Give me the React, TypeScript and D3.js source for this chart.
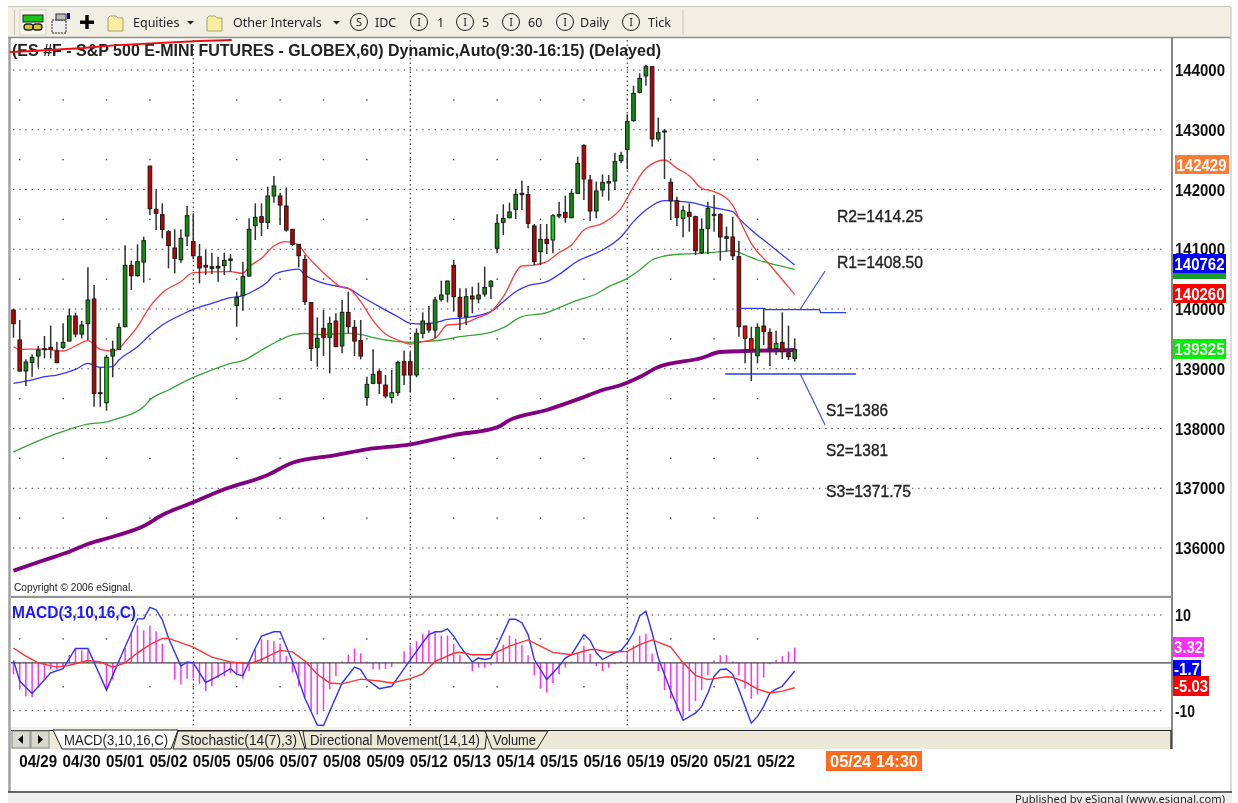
import React from "react";
import * as d3 from "d3";

const highs = [140000,139816,139157,139241,139381,139548,139721,139453,139760,140005,139938,139799,140697,140402,139024,139230,139470,139760,141065,140809,141082,141210,142393,141992,141768,141322,141333,141333,141724,141601,141088,140987,140943,140876,140943,140920,140290,140792,141517,141768,141768,142047,142226,141947,142036,141333,141082,140904,140106,139860,139983,139871,139927,140150,140290,139816,139816,138867,139325,138990,138895,138979,139135,139302,139286,139676,139944,140050,140206,140474,140474,140820,140346,140346,140374,140440,140708,140485,141584,141752,141780,142003,142148,142058,141422,141422,141422,141584,141796,141897,141992,142549,142756,142243,142131,142254,142243,142616,142633,143258,143738,143944,144084,144056,143202,143012,142187,141880,141729,141768,141562,141517,141796,141908,141601,141378,141545,141143,139721,139704,139760,140000,139676,139637,139944,139721,139509];
const lows = [139520,138951,138711,138867,139018,139174,139174,139090,139325,139453,139526,139509,139481,138365,138365,138298,138856,139314,139693,140318,140541,140440,141573,141322,141183,140680,140597,140775,141054,140831,140429,140569,140586,140457,140569,140625,139704,139972,140541,141155,141222,141339,141780,141406,141294,141054,140697,140067,139130,139035,139213,138923,139369,139258,139593,139213,139157,138382,138739,138577,138505,138421,138544,138728,138605,138856,139509,139604,139509,140123,140111,139955,139648,139732,139927,140095,140206,140167,140932,141238,141517,141506,141657,141350,140736,140736,140920,140932,141517,141445,141517,141925,141824,141473,141517,141880,141813,141992,142438,142343,143135,143609,143738,142717,142800,142176,141489,141389,141199,141294,140904,140920,140920,141294,140809,140959,140820,139537,139090,138795,139090,139397,139046,139230,139163,139146,139118];
const opens = [139983,139481,138962,139107,139213,139336,139358,139297,139358,139464,139883,139581,139754,140167,138599,138432,139213,139325,139704,140731,140558,140786,142393,141668,141579,141294,141021,140826,141222,141127,140876,140731,140708,140714,140725,140837,140061,140223,140552,141395,141545,141450,141891,141891,141724,141333,141082,140831,140106,139358,139676,139526,139799,139381,139944,139693,139470,138521,138756,138951,138728,138521,138605,139118,139118,138895,139593,139760,139648,140162,140251,140731,140195,139871,140217,140167,140251,140379,141015,141450,141528,141668,141936,141913,141389,140959,141166,141155,141584,141618,141528,141936,142734,142159,141640,141992,142131,142142,142482,142672,143152,143626,143900,144056,142845,142979,142120,141813,141517,141618,141545,140943,141350,141584,141584,141210,141205,140876,139715,139503,139219,139715,139609,139341,139442,139269,139174];
const closes = [139754,138962,139113,139191,139314,139319,139325,139102,139442,139883,139581,139732,140150,138588,138583,139191,139325,139693,140731,140558,140792,141143,141679,141601,141333,141060,140848,141183,141562,140892,140686,140703,140680,140686,140814,140814,140190,140541,141333,141534,141450,141891,142058,141740,141322,141082,140892,140123,139341,139509,139526,139760,139369,139944,139704,139464,139213,138739,138906,138756,138544,138599,139102,138895,138895,139593,139799,139648,140150,140234,140468,140206,139871,140206,140167,140234,140362,140463,141434,141517,141623,141919,141913,141434,140792,141166,141099,141562,141556,141534,141936,142438,142176,141640,141975,142120,142109,142466,142572,143135,143609,143860,144056,142845,142951,142962,141813,141534,141646,141551,140976,141333,141685,141568,141205,141183,140892,139704,139509,139314,139693,139626,139341,139420,139286,139202,139319];
const brightIndex = [15, 61, 87, 108, 123, 118, 119];

const redMaIndex = [0,1,5,8,10,12,14,16,17,18,20,22,24,27,29,35,37,38,40,42,44,46,47,49,51,53,54,56,58,60,62,64,66,68,70,72,75,77,79,82,84,86,88,90,92,95,98,100,102,105,107,109,111,113,116,117,119,122,126];
const redMa = [139369,139325,139330,139297,139381,139470,139325,139297,139336,139453,139704,140039,140273,140457,140608,140625,140597,140708,140848,141054,141127,141071,140932,140708,140513,140362,140346,140123,139805,139581,139481,139414,139453,139509,139732,139749,139860,139955,140206,140720,140736,140792,140945,141071,141322,141434,141685,142047,142354,142494,142354,142231,142019,141964,141740,141517,141099,140736,140245];
const blueMaIndex = [0,3,5,7,10,12,14,16,17,20,22,24,27,29,32,35,37,39,41,42,44,46,47,49,52,54,56,59,62,64,66,68,70,73,77,79,81,83,86,88,91,95,98,100,102,105,108,110,112,114,116,117,119,122,126];
const blueMa = [138756,138812,138867,138895,138990,139090,139024,139035,139146,139369,139565,139732,139899,139994,140095,140190,140223,140318,140457,140569,140641,140669,140569,140468,140385,140346,140217,140039,139871,139760,139749,139771,139827,139855,139955,140123,140290,140390,140457,140580,140803,140987,141210,141462,141657,141813,141796,141768,141713,141674,141629,141517,141322,141071,140736];
const greenMaIndex = [0,6,12,15,16,21,22,25,29,32,35,37,40,43,45,47,49,54,56,58,62,64,66,69,72,77,79,82,86,88,91,94,96,99,101,103,105,108,111,114,116,118,120,122,126];
const greenMa = [137607,137875,138075,138109,138142,138365,138477,138644,138856,138979,139090,139135,139314,139481,139565,139593,139570,139593,139576,139520,139453,139442,139453,139481,139537,139609,139687,139871,139938,140022,140150,140251,140374,140513,140653,140820,140887,140920,140932,140959,140976,140904,140820,140764,140664];
const purpleMaIndex = [0,5,9,12,16,21,24,29,34,41,45,52,57,64,71,78,80,86,92,95,98,101,104,111,114,126];
const purpleMa = [135620,135799,135938,136067,136189,136368,136552,136764,136982,137222,137428,137556,137651,137735,137891,138019,138140,138310,138527,138644,138728,138862,139029,139180,139280,139314];

const histValues = [-2.4,-5.6,-7,-7.2,-5.2,-3.5,-1.4,-1.4,-0.9,1.7,3,2.6,2.6,0.5,-0.3,-5.2,-3.5,0.3,3.1,6.3,7.8,6.8,7.8,6.6,4,0.1,-3.5,-4.5,-3.3,-3.3,-4.4,-5.9,-4.9,-3.1,-2.8,-2.1,-2.4,-3.3,-1.7,2.8,4.9,4.8,4.5,4,1.4,-2,-4.9,-7.3,-10,-10.8,-9.8,-5.5,-2.8,0.3,1.7,3,2,0.3,-1.4,-1.4,-1.3,-0.9,0,2.4,3.7,4.5,6.1,6.8,6.5,5.7,5.7,4,1.6,-0.2,-1.7,-1,-1,-0.5,2.1,3.8,5.7,5,3.8,1.6,-2.6,-5.4,-6.2,-4.2,-2.4,-1,0.3,2.1,3.5,1.9,-0.7,-1.7,-1,-0.3,0.3,1.9,3.6,5.7,6.1,1.9,-1.7,-5.7,-7.5,-10.1,-11.4,-10,-8,-5.7,-2.6,0.5,1.6,1.6,0.3,-2.6,-5.4,-7.5,-6.6,-3.1,-0.3,0.6,1.4,2.4,3.2];
const macdIndex = [0,1,3,6,8,10,12,15,17,20,21,22,23,24,25,27,28,29,31,33,35,36,37,39,40,42,43,45,47,49,50,53,55,56,57,59,61,63,66,67,68,69,70,71,72,74,75,76,77,78,80,81,82,83,84,86,88,89,90,92,93,94,95,97,98,99,100,101,102,103,104,106,108,110,111,112,113,114,115,116,117,119,120,121,122,123,124,126];
const macdLine = [0.5,-3.8,-6.4,-2.1,-1.2,3,3,-5.7,0.4,9.2,9.2,11.6,11.1,9,5.2,-0.7,0.2,0,-4.1,-2.8,-1.2,-2.4,-2.7,3.1,5.6,6.5,6.5,0.3,-7.4,-13,-13.1,-4.2,-0.9,-1.4,-3.5,-5.4,-4.9,-1.2,4.2,5.9,6.5,6.5,7.1,5.6,3.5,0.2,1,0.7,1,3.5,9.1,9.1,8.4,5.9,0.7,-3.5,-0.7,1,1.7,5.9,4.7,2.1,0.7,2.1,2.6,4.2,6.3,9.8,10.8,6.3,1,-5.9,-12,-10.5,-9.1,-6.3,-2.8,-1.4,-1.3,-2.4,-5.6,-12.6,-11.2,-9.1,-6.3,-5.5,-4.9,-1.7];
const signalIndex = [0,2,4,7,9,12,14,16,18,20,22,24,25,29,32,35,38,40,43,45,47,49,51,53,56,59,61,64,66,68,71,72,74,77,80,83,85,87,90,93,94,96,99,101,103,106,108,110,112,115,116,118,120,122,124,126];
const signalLine = [3.1,1.4,0,-0.9,-0.5,0.5,0.2,-0.9,0,2.1,3.8,5.1,5.1,3.3,1.2,0.2,-0.2,0.7,2.6,2.3,0.4,-2.4,-4.2,-4.4,-3.4,-3.8,-4.2,-3.3,-2.3,0.3,2,2.2,1.7,1.7,3.5,4.8,3.5,2.2,1.7,2.8,2.8,2.2,2.4,3.8,4.8,3.3,0,-2.6,-3.5,-2.9,-3,-4,-5.5,-6.3,-5.9,-5.2];

const priceTicks = [144000,143000,142000,141000,140000,139000,138000,137000,136000];
const priceHalfTicks = [143500,142500,141500,140500,139500,138500,137500,136500];
const dayLabels = ["04/29","04/30","05/01","05/02","05/05","05/06","05/07","05/08","05/09","05/12","05/13","05/14","05/15","05/16","05/19","05/20","05/21","05/22"];
const weekStartDays = [4, 9, 14];
const macdTicks = [10, -10];
const macdHalfTicks = [5, -5];

const resistIndex = [117.2,121.2,121.3,130,130.2,134.3];
const resistPrice = [140010,140010,139990,139990,139940,139940];
const resistLeaderIndex = [126.9,130.9];
const resistLeaderPrice = [140000,140636];
const supportIndex = [114.8,135.9];
const supportPrice = [138912,138912];
const supportLeaderIndex = [126.9,130.9];
const supportLeaderPrice = [138912,138059];
const strikeIndex = [-0.6,3.1,11.2,16.7,30,35.2];
const strikePrice = [144301,144318,144368,144418,144485,144502];

const levelNotes = [
  { text: "R2=1414.25", x: 837, y: 216, w: 86 },
  { text: "R1=1408.50", x: 837, y: 262, w: 86 },
  { text: "S1=1386", x: 826, y: 410, w: 62 },
  { text: "S2=1381", x: 826, y: 450, w: 62 },
  { text: "S3=1371.75", x: 826, y: 491, w: 85 },
];
const priceBadges = [
  { text: "142429", fill: "#ff7a33", x: 1175, y: 155, w: 54, h: 19 },
  { text: "", fill: "#1f9a2a", x: 1173, y: 266, w: 53, h: 13 },
  { text: "140762", fill: "#0000ff", x: 1173, y: 254, w: 53, h: 19 },
  { text: "140260", fill: "#ff0000", x: 1173, y: 284, w: 53, h: 19 },
  { text: "139325", fill: "#00ee00", x: 1173, y: 339, w: 53, h: 20 },
];
const macdBadges = [
  { text: "3.32", fill: "#ff2fff", x: 1173, y: 637, w: 31, h: 20 },
  { text: "-1.7", fill: "#0000ff", x: 1173, y: 660, w: 28, h: 17 },
  { text: "-5.03", fill: "#ff0000", x: 1173, y: 676, w: 36, h: 20 },
];
const toolbarLabels = [
  { text: "Equities", x: 133 },
  { text: "Other Intervals", x: 233 },
  { text: "IDC", x: 375 },
  { text: "1", x: 437 },
  { text: "5", x: 482 },
  { text: "60", x: 528 },
  { text: "Daily", x: 580 },
  { text: "Tick", x: 648 },
];
const toolbarCircles = [
  { text: "S", x: 359 }, { text: "I", x: 419 }, { text: "I", x: 465 },
  { text: "I", x: 511 }, { text: "I", x: 565 }, { text: "I", x: 631 },
];
const tabs = [
  { text: "MACD(3,10,16,C)", x: 64, w: 104, pts: "53,730 62,749 171,749 178,730", fill: "#ffffff" },
  { text: "Stochastic(14(7),3)", x: 181, w: 116, pts: "173,749 178,731 299,731 305,749", fill: "#ece9d8" },
  { text: "Directional Movement(14,14)", x: 310, w: 170, pts: "303,731 306,749 485,749 487,731", fill: "#ece9d8" },
  { text: "Volume", x: 493, w: 43, pts: "485,731 492,749 537,749 548,731", fill: "#ece9d8" },
];

const x = d3.scaleLinear().domain([0, 126]).range([13.5, 794.7]);
const y = d3.scaleLinear().domain([136000, 144000]).range([548, 70]);
const ym = d3.scaleLinear().domain([-10, 10]).range([710.7, 615]);

const pricePath = (idx: number[], vals: number[], curve: d3.CurveFactory = d3.curveLinear) =>
  d3.line<number>().x((d) => x(d)).y((_, i) => y(vals[i])).curve(curve)(idx) as string;
const macdPath = (idx: number[], vals: number[]) =>
  d3.line<number>().x((d) => x(d)).y((_, i) => ym(vals[i]))(idx) as string;

const dayIndex = dayLabels.map((_, k) => 1 + 7 * k);
const sans = "'Liberation Sans', Arial, sans-serif";
const ui = "'Noto Sans', Tahoma, sans-serif";

export default function App() {
  return (
    <svg width={1238} height={803} style={{ position: "absolute", left: 0, top: 0, display: "block", background: "#fff" }}>
      <defs>
        <filter id="soft" x="0" y="0" width="100%" height="100%">
          <feGaussianBlur stdDeviation="0.35" />
        </filter>
        <clipPath id="paneClip"><rect x={11} y={40} width={1160} height={687} /></clipPath>
      </defs>
      <g filter="url(#soft)">
        {/* window */}
        <rect x={8} y={7} width={1223} height={31} fill="#f1efe4" />
        <line x1={8} x2={1231} y1={6.5} y2={6.5} stroke="#c8c8c0" />
        <line x1={8} x2={1231} y1={37.5} y2={37.5} stroke="#8f8f88" strokeWidth={1.4} />
        <line x1={9.5} x2={9.5} y1={38} y2={792} stroke="#a0a0a0" strokeWidth={2.5} />
        <line x1={1231} x2={1231} y1={7} y2={792} stroke="#d0d0d0" strokeWidth={1.5} />
        <rect x={8} y={793} width={1224} height={10} fill="#eeeeee" />
        <line x1={8} x2={1232} y1={792} y2={792} stroke="#333" strokeWidth={1.4} />
        <text x={1015} y={802.5} fontFamily={ui} fontSize={11.5} fill="#222" textLength={210} lengthAdjust="spacingAndGlyphs">Published by eSignal (www.esignal.com)</text>

        {/* toolbar */}
        <rect x={20} y={10} width={26} height={25} fill="#f8f7ef" stroke="#d8d6c8" />
        <rect x={23} y={15} width={20} height={7} fill="#12c312" stroke="#222" />
        <rect x={24} y={24} width={9} height={6} rx={3} fill="#d6c830" stroke="#222" strokeWidth={1.3} />
        <rect x={33} y={24} width={9} height={6} rx={3} fill="#d6c830" stroke="#222" strokeWidth={1.3} />
        <rect x={52} y={20} width={14} height={13} fill="#eee" stroke="#222" strokeDasharray="2 1" />
        <rect x={56} y={14} width={10} height={6} fill="#bbb" stroke="#333" />
        <rect x={67} y={13} width={3} height={6} fill="#0000c0" />
        <rect x={80} y={20.5} width={14} height={3.4} fill="#000" />
        <rect x={85.3} y={15} width={3.4} height={14} fill="#000" />
        {[108, 207].map((fx) => (
          <g key={fx}>
            <path d={`M${fx} 18 l2 -2 h6 l2 2 h5 v13 h-15 z`} fill="#f7ef9f" stroke="#a8a070" />
          </g>
        ))}
        {[190, 336].map((ax) => (
          <path key={ax} d={`M${ax - 3} 21 h7 l-3.5 3.5 z`} fill="#222" />
        ))}
        {toolbarCircles.map((c) => (
          <g key={c.x}>
            <circle cx={c.x} cy={22} r={8.5} fill="none" stroke="#222" />
            <text x={c.x} y={26} textAnchor="middle" fontFamily={ui} fontSize={11} fill="#222">{c.text}</text>
          </g>
        ))}
        {toolbarLabels.map((t) => (
          <text key={t.text} x={t.x} y={27} fontFamily={ui} fontSize={12.5} fill="#222">{t.text}</text>
        ))}
        <line x1={683} x2={683} y1={10} y2={35} stroke="#c8c6b8" />
        <line x1={14.5} x2={14.5} y1={10} y2={35} stroke="#c8c6b8" />

        {/* horizontal frame bands */}
        <rect x={11} y={595} width={1160} height={3} fill="#eeeee6" />
        <line x1={11} x2={1171} y1={597} y2={597} stroke="#777" strokeWidth={1.3} />
        <rect x={11} y={727} width={1160} height={3} fill="#f2f1e8" />
        <line x1={1172} x2={1172} y1={38} y2={749} stroke="#555" strokeWidth={1.4} />

        {/* grid */}
        <g clipPath="url(#paneClip)">
          {priceTicks.map((t) => (
            <line key={t} x1={13} x2={1163} y1={y(t)} y2={y(t)} stroke="#444" strokeDasharray="1.4 4.8" />
          ))}
          {macdTicks.map((t) => (
            <line key={t} x1={13} x2={1163} y1={ym(t)} y2={ym(t)} stroke="#444" strokeDasharray="1.4 4.8" />
          ))}
          {dayIndex.map((d) =>
            priceHalfTicks.map((t) => (
              <rect key={`${d}-${t}`} x={x(d) - 0.7} y={y(t) - 0.7} width={1.4} height={1.4} fill="#444" />
            ))
          )}
          {dayIndex.map((d) =>
            macdHalfTicks.map((t) => (
              <rect key={`${d}-${t}`} x={x(d) - 0.7} y={ym(t) - 0.7} width={1.4} height={1.4} fill="#444" />
            ))
          )}
          {weekStartDays.map((k) => (
            <line key={k} x1={x(dayIndex[k])} x2={x(dayIndex[k])} y1={40} y2={727} stroke="#444" strokeDasharray="1.5 3" strokeWidth={1.2} />
          ))}
        </g>

        {/* moving averages */}
        <path d={pricePath(purpleMaIndex, purpleMa, d3.curveMonotoneX)} fill="none" stroke="#800080" strokeWidth={3.8} />
        <path d={pricePath(greenMaIndex, greenMa, d3.curveMonotoneX)} fill="none" stroke="#35a535" strokeWidth={1.3} />
        <path d={pricePath(blueMaIndex, blueMa, d3.curveMonotoneX)} fill="none" stroke="#3535ff" strokeWidth={1.3} />
        <path d={pricePath(redMaIndex, redMa, d3.curveMonotoneX)} fill="none" stroke="#ff3c3c" strokeWidth={1.3} />

        {/* candles */}
        {highs.map((h, i) => {
          const up = closes[i] > opens[i];
          const top = y(Math.max(opens[i], closes[i]));
          const bottom = y(Math.min(opens[i], closes[i]));
          const bright = brightIndex.includes(i);
          const fill = up ? (bright ? "#00e000" : "#0d8f0d") : bright ? "#ff0000" : "#c00000";
          return (
            <g key={i}>
              <line x1={x(i)} x2={x(i)} y1={y(h)} y2={y(lows[i])} stroke="#303030" strokeWidth={1.5} />
              <rect x={x(i) - 1.8} y={top} width={3.6} height={Math.max(bottom - top, 1)} fill={fill} stroke="#1c1c1c" strokeWidth={1} />
            </g>
          );
        })}

        {/* level lines */}
        <path d={pricePath(resistIndex, resistPrice)} fill="none" stroke="#2a3fe0" strokeWidth={1.3} />
        <path d={pricePath(resistLeaderIndex, resistLeaderPrice)} fill="none" stroke="#3a50f0" strokeWidth={1.2} />
        <path d={pricePath(supportIndex, supportPrice)} fill="none" stroke="#2a3fe0" strokeWidth={1.3} />
        <path d={pricePath(supportLeaderIndex, supportLeaderPrice)} fill="none" stroke="#3a50f0" strokeWidth={1.2} />
        {levelNotes.map((n) => (
          <text key={n.text} x={n.x} y={n.y + 6} fontFamily={sans} fontSize={16.5} fill="#222" stroke="#222" strokeWidth={0.35} textLength={n.w} lengthAdjust="spacingAndGlyphs">{n.text}</text>
        ))}

        {/* title */}
        <text x={12} y={55.5} fontFamily={sans} fontWeight="bold" fontSize={16.5} fill="#222" textLength={649} lengthAdjust="spacingAndGlyphs">(ES #F - S&amp;P 500 E-MINI FUTURES - GLOBEX,60) Dynamic,Auto(9:30-16:15) (Delayed)</text>
        <path d={pricePath(strikeIndex, strikePrice)} fill="none" stroke="#ee1111" strokeWidth={1.8} />
        <text x={14} y={591} fontFamily={sans} fontSize={10.4} fill="#222" textLength={119} lengthAdjust="spacingAndGlyphs">Copyright © 2006 eSignal.</text>

        {/* price axis */}
        {priceTicks.map((t) => (
          <text key={t} x={1175} y={y(t) + 6} fontFamily={sans} fontWeight="bold" fontSize={16.5} fill="#111" textLength={50} lengthAdjust="spacingAndGlyphs">{t}</text>
        ))}
        {priceBadges.map((b, i) => (
          <g key={i}>
            <rect x={b.x} y={b.y} width={b.w} height={b.h} fill={b.fill} />
            {b.text && <text x={b.x + 1.5} y={b.y + b.h / 2 + 6} fontFamily={sans} fontWeight="bold" fontSize={16.5} fill="#fff" textLength={50} lengthAdjust="spacingAndGlyphs">{b.text}</text>}
          </g>
        ))}

        {/* MACD */}
        {histValues.map((v, i) => (
          <line key={i} x1={x(i)} x2={x(i)} y1={ym(0)} y2={ym(v)} stroke="#ff2fff" strokeWidth={1.5} />
        ))}
        <line x1={11} x2={1171} y1={ym(0)} y2={ym(0)} stroke="#444" strokeWidth={1.4} />
        <path d={macdPath(macdIndex, macdLine)} fill="none" stroke="#3232ff" strokeWidth={1.4} />
        <path d={macdPath(signalIndex, signalLine)} fill="none" stroke="#ff3030" strokeWidth={1.4} />
        <text x={12} y={617.5} fontFamily={sans} fontWeight="bold" fontSize={16.5} fill="#1a1aff" textLength={124} lengthAdjust="spacingAndGlyphs">MACD(3,10,16,C)</text>
        {macdTicks.map((t) => (
          <text key={t} x={1175} y={ym(t) + 6} fontFamily={sans} fontWeight="bold" fontSize={16.5} fill="#111" textLength={t < 0 ? 20 : 16} lengthAdjust="spacingAndGlyphs">{t}</text>
        ))}
        {macdBadges.map((b) => (
          <g key={b.text}>
            <rect x={b.x} y={b.y} width={b.w} height={b.h} fill={b.fill} />
            <text x={b.x + 1} y={b.y + b.h / 2 + 6} fontFamily={sans} fontWeight="bold" fontSize={16.5} fill="#fff" textLength={b.w - 2} lengthAdjust="spacingAndGlyphs">{b.text}</text>
          </g>
        ))}

        {/* tabs */}
        <rect x={11} y={730} width={1160} height={19} fill="#ece9d8" />
        <line x1={11} x2={1171} y1={730.5} y2={730.5} stroke="#222" />
        <line x1={1171} x2={1171} y1={730} y2={749} stroke="#333" strokeWidth={1.4} />
        {[12, 31].map((bx, i) => (
          <g key={bx}>
            <rect x={bx} y={731} width={18} height={17} fill="#d8d8d0" stroke="#888" />
            <path d={i === 0 ? `M${bx + 11} 735 v9 l-5 -4.5 z` : `M${bx + 7} 735 v9 l5 -4.5 z`} fill="#111" />
          </g>
        ))}
        {tabs.map((t) => (
          <g key={t.text}>
            <polygon points={t.pts} fill={t.fill} stroke="#222" />
            <text x={t.x} y={745} fontFamily={sans} fontSize={14} fill="#222" textLength={t.w} lengthAdjust="spacingAndGlyphs">{t.text}</text>
          </g>
        ))}

        {/* date axis */}
        {dayLabels.map((d, k) => (
          <text key={d} x={x(dayIndex[k]) - 0.5} y={767} fontFamily={sans} fontWeight="bold" fontSize={16.5} fill="#111" textLength={38} lengthAdjust="spacingAndGlyphs">{d}</text>
        ))}
        <rect x={826} y={751} width={96} height={20} fill="#ff6a1a" />
        <text x={830} y={767} fontFamily={sans} fontWeight="bold" fontSize={16.5} fill="#fff" textLength={88} lengthAdjust="spacingAndGlyphs">05/24 14:30</text>
      </g>
    </svg>
  );
}
